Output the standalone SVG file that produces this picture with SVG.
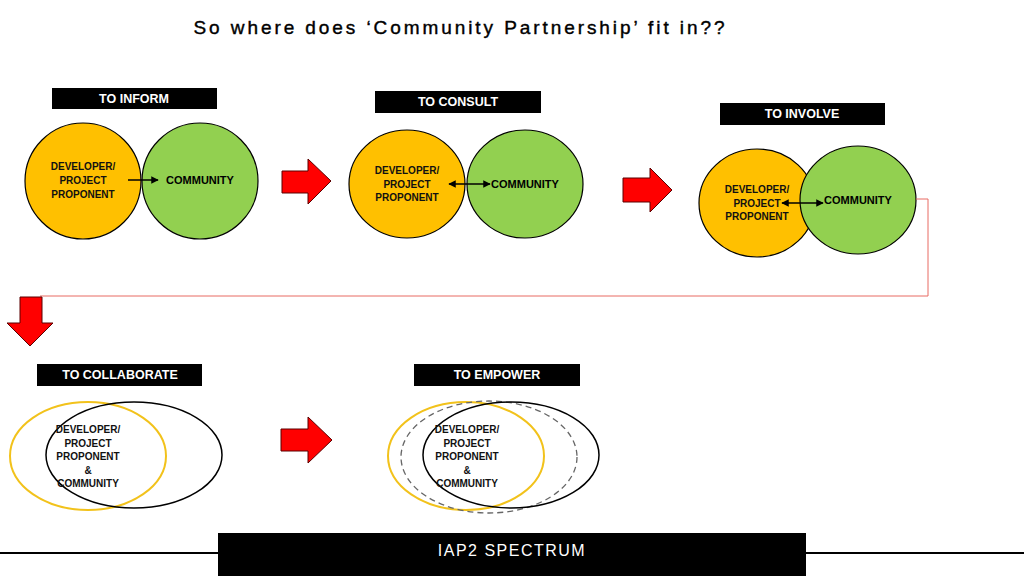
<svg xmlns="http://www.w3.org/2000/svg" width="1024" height="576" viewBox="0 0 1024 576">
<defs>
<marker id="ah" viewBox="0 0 10 10" refX="9" refY="5" markerWidth="5" markerHeight="5" orient="auto-start-reverse"><path d="M0,0 L10,5 L0,10 z" fill="#000"/></marker>
<style>
.lbl{fill:#000}
.lt{font-family:"Liberation Sans",Arial,sans-serif;font-weight:bold;font-size:12.5px;fill:#fff;text-anchor:middle}
.ct{font-family:"Liberation Sans",Arial,sans-serif;font-weight:bold;font-size:10px;fill:#111;text-anchor:middle}
.cm{font-family:"Liberation Sans",Arial,sans-serif;font-weight:bold;font-size:11px;fill:#000;text-anchor:middle}
.or{fill:#FFC000;stroke:#000;stroke-width:1.2}
.gr{fill:#92D050;stroke:#000;stroke-width:1.2}
.ra{fill:#FF0000;stroke:#5a0000;stroke-width:1}
.conn{stroke:#000;stroke-width:1.5;fill:none}
</style>
</defs>
<rect width="1024" height="576" fill="#fff"/>
<text x="459" y="34" font-family="'Liberation Sans',Arial,sans-serif" font-size="19" fill="#000" stroke="#000" stroke-width="0.4" text-anchor="middle" textLength="531" lengthAdjust="spacing">So where does ‘Community Partnership’ fit in??</text>

<g id="inform">
<rect class="lbl" x="52" y="88" width="165" height="21"/>
<text class="lt" x="134" y="103">TO INFORM</text>
<circle class="or" cx="83" cy="181" r="58"/>
<circle class="gr" cx="200" cy="181" r="58"/>
<text class="ct" x="83" y="170">DEVELOPER/</text>
<text class="ct" x="83" y="184">PROJECT</text>
<text class="ct" x="83" y="198">PROPONENT</text>
<text class="cm" x="200" y="184">COMMUNITY</text>
</g>

<g id="consult">
<rect class="lbl" x="375" y="91" width="166" height="22"/>
<text class="lt" x="458" y="106">TO CONSULT</text>
<ellipse class="or" cx="407" cy="184" rx="58" ry="54"/>
<ellipse class="gr" cx="525" cy="184" rx="58" ry="54"/>
<text class="ct" x="407" y="174">DEVELOPER/</text>
<text class="ct" x="407" y="188">PROJECT</text>
<text class="ct" x="407" y="201">PROPONENT</text>
<text class="cm" x="525" y="188">COMMUNITY</text>
</g>

<g id="involve">
<rect class="lbl" x="720" y="103" width="165" height="22"/>
<text class="lt" x="802" y="118">TO INVOLVE</text>
<ellipse class="or" cx="757" cy="203" rx="58" ry="54"/>
<ellipse class="gr" cx="858" cy="200" rx="58" ry="54"/>
<text class="ct" x="757" y="193">DEVELOPER/</text>
<text class="ct" x="757" y="207">PROJECT</text>
<text class="ct" x="757" y="220">PROPONENT</text>
<text class="cm" x="858" y="204">COMMUNITY</text>
</g>

<g id="collaborate">
<rect class="lbl" x="37" y="364" width="165" height="22"/>
<text class="lt" x="120" y="379">TO COLLABORATE</text>
<ellipse cx="88" cy="456" rx="78" ry="54" fill="none" stroke="#F2C21B" stroke-width="2"/>
<ellipse cx="134" cy="455" rx="88" ry="53" fill="none" stroke="#000" stroke-width="1.5"/>
<text class="ct" x="88" y="433">DEVELOPER/</text>
<text class="ct" x="88" y="447">PROJECT</text>
<text class="ct" x="88" y="460">PROPONENT</text>
<text class="ct" x="88" y="474">&amp;</text>
<text class="ct" x="88" y="487">COMMUNITY</text>
</g>

<g id="empower">
<rect class="lbl" x="414" y="364" width="166" height="22"/>
<text class="lt" x="497" y="379">TO EMPOWER</text>
<ellipse cx="466" cy="456" rx="78" ry="54" fill="none" stroke="#F2C21B" stroke-width="2"/>
<ellipse cx="489" cy="457" rx="88" ry="56" fill="none" stroke="#666" stroke-width="1.3" stroke-dasharray="6,4"/>
<ellipse cx="511" cy="455" rx="88" ry="53" fill="none" stroke="#000" stroke-width="1.5"/>
<text class="ct" x="467" y="433">DEVELOPER/</text>
<text class="ct" x="467" y="447">PROJECT</text>
<text class="ct" x="467" y="460">PROPONENT</text>
<text class="ct" x="467" y="474">&amp;</text>
<text class="ct" x="467" y="487">COMMUNITY</text>
</g>

<g id="connectors">
<line class="conn" x1="128" y1="180" x2="158" y2="180" marker-end="url(#ah)"/>
<line class="conn" x1="449" y1="184" x2="490" y2="184" marker-start="url(#ah)" marker-end="url(#ah)"/>
<line class="conn" x1="782" y1="203" x2="823" y2="203" marker-start="url(#ah)" marker-end="url(#ah)"/>
<polyline points="916,199 928,199 928,296 40,296" fill="none" stroke="#E86A62" stroke-width="1"/>
<polygon class="ra" points="282,171 308,171 308,159 331,181 308,204 308,193 282,193"/>
<polygon class="ra" points="623,178 650,178 650,168 672,190 650,212 650,202 623,202"/>
<polygon class="ra" points="281,429 308,429 308,417 332,440 308,463 308,451 281,451"/>
<polygon class="ra" points="20,297 42,297 42,323 53,323 30,346 7,323 20,323"/>
</g>

<g id="footer">
<line x1="0" y1="553" x2="1024" y2="553" stroke="#000" stroke-width="2"/>
<rect x="218" y="533" width="588" height="43" fill="#000"/>
<text x="512" y="556" font-family="'Liberation Sans',Arial,sans-serif" font-size="16" fill="#fff" text-anchor="middle" letter-spacing="1.5">IAP2 SPECTRUM</text>
</g>
</svg>
